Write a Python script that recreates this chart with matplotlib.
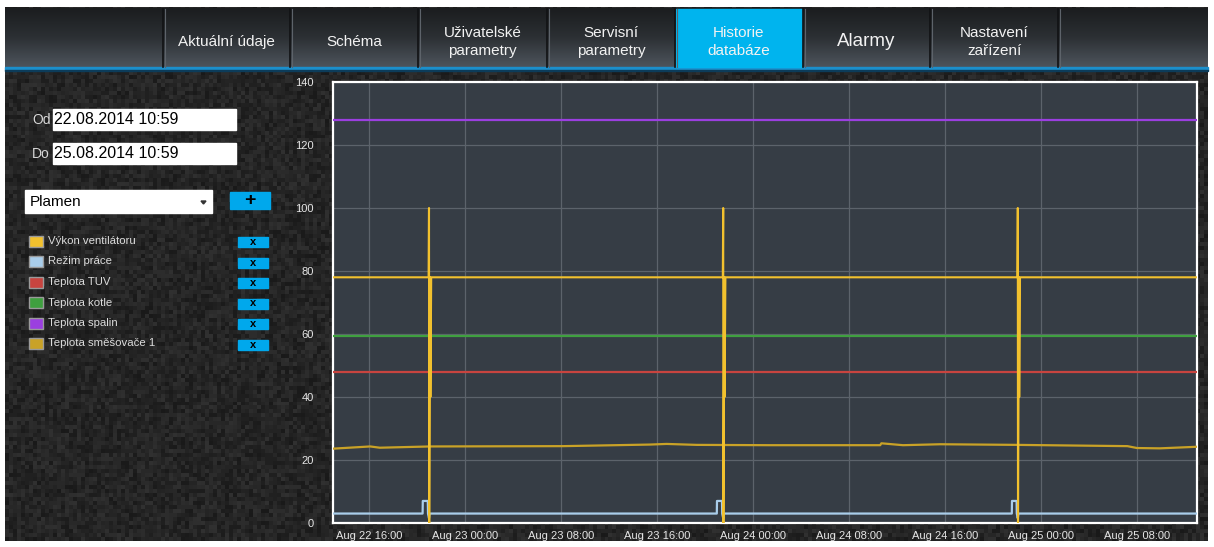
import matplotlib.pyplot as plt
import matplotlib.dates as mdates
from matplotlib.patches import Rectangle, Polygon
from matplotlib.colors import LinearSegmentedColormap
import numpy as np
import pandas as pd

plt.rcParams['font.family'] = ['Liberation Sans', 'DejaVu Sans']

# --- data ---
start = '2014-08-22 12:59'
end = '2014-08-25 12:59'

fan_times = ['2014-08-22 12:59',
             '2014-08-22 20:57', '2014-08-22 20:59', '2014-08-22 21:00', '2014-08-22 21:05', '2014-08-22 21:06', '2014-08-22 21:10',
             '2014-08-23 21:28', '2014-08-23 21:30', '2014-08-23 21:31', '2014-08-23 21:36', '2014-08-23 21:37', '2014-08-23 21:41',
             '2014-08-24 22:01', '2014-08-24 22:03', '2014-08-24 22:04', '2014-08-24 22:09', '2014-08-24 22:10', '2014-08-24 22:14',
             '2014-08-25 12:59']
fan_vals = [78,
            78, 100, 0, 78, 40, 78,
            78, 100, 0, 78, 40, 78,
            78, 100, 0, 78, 40, 78,
            78]

mode_times = ['2014-08-22 12:59',
              '2014-08-22 20:27', '2014-08-22 20:28', '2014-08-22 20:53', '2014-08-22 20:54', '2014-08-22 20:59', '2014-08-22 21:02',
              '2014-08-23 20:58', '2014-08-23 20:59', '2014-08-23 21:24', '2014-08-23 21:25', '2014-08-23 21:30', '2014-08-23 21:33',
              '2014-08-24 21:33', '2014-08-24 21:34', '2014-08-24 21:57', '2014-08-24 21:58', '2014-08-24 22:03', '2014-08-24 22:06',
              '2014-08-25 12:59']
mode_vals = [3,
             3, 7, 7, 3, 1.5, 3,
             3, 7, 7, 3, 1.5, 3,
             3, 7, 7, 3, 1.5, 3,
             3]

tuv_times = [start, end]
tuv_vals = [48, 48]
kotel_times = [start, end]
kotel_vals = [59.3, 59.3]
spaliny_times = [start, end]
spaliny_vals = [128, 128]

mix_times = ['2014-08-22 12:59', '2014-08-22 16:05', '2014-08-22 16:53', '2014-08-22 21:05',
             '2014-08-23 08:11', '2014-08-23 15:23', '2014-08-23 16:47', '2014-08-23 19:17',
             '2014-08-24 01:23', '2014-08-24 10:35', '2014-08-24 10:41', '2014-08-24 12:29',
             '2014-08-24 15:35', '2014-08-24 21:59', '2014-08-25 07:11', '2014-08-25 07:59',
             '2014-08-25 09:53', '2014-08-25 12:59']
mix_vals = [23.6, 24.3, 23.9, 24.3, 24.4, 24.9, 25.1, 24.8, 24.7, 24.7, 25.3, 24.7,
            25.0, 24.8, 24.4, 23.8, 23.7, 24.2]

series_names = ['Výkon ventilátoru', 'Režim práce', 'Teplota TUV', 'Teplota kotle',
                'Teplota spalin', 'Teplota směšovače 1']
series_colors = ['#f2c12e', '#a9cdea', '#c8443f', '#3fa03f', '#9b3fe0', '#c9a227']

tabs = ['Aktuální údaje', 'Schéma', 'Uživatelské\nparametry', 'Servisní\nparametry',
        'Historie\ndatabáze', 'Alarmy', 'Nastavení\nzařízení']
date_from = '22.08.2014 10:59'
date_to = '25.08.2014 10:59'
selected = 'Plamen'

# --- page ---
W, H = 1214, 547
fig = plt.figure(figsize=(W / 100, H / 100), dpi=100)
fig.patch.set_facecolor('white')
bg = fig.add_axes([0, 0, 1, 1])
bg.set_xlim(0, W)
bg.set_ylim(H, 0)
bg.axis('off')

# dark mosaic background (hash pattern, purely decorative)
ny, nx = 134, 301
jj, ii = np.meshgrid(np.arange(nx), np.arange(ny))
h = np.sin(ii * 12.9898 + jj * 78.233) * 43758.5453
h = h - np.floor(h)
tex = 0.10 + 0.09 * h
bg.imshow(tex, extent=[5, 1208, 541, 7], cmap='gray', vmin=0, vmax=1,
          interpolation='nearest', aspect='auto', zorder=0)

# nav bar gradient
grad = np.linspace(0, 1, 60)[:, None]
navcm = LinearSegmentedColormap.from_list('nav', ['#1b1d1f', '#2c3034', '#4d545c'])
bg.imshow(grad, extent=[5, 1208, 67, 8], cmap=navcm, aspect='auto', zorder=1)
bg.add_patch(Rectangle((5, 67), 1203, 3, color='#1b8fcc', zorder=2))
bg.add_patch(Rectangle((5, 70), 1203, 1, color='#0c3c5a', zorder=2))

seps = [163, 290, 418, 547, 675, 803, 930, 1058]
bg.add_patch(Rectangle((676, 9), 126, 58, color='#00b4ee', zorder=2))
for sx in seps:
    bg.plot([sx, sx], [9, 67], color='#111214', lw=1.2, zorder=3)
    bg.plot([sx + 1.5, sx + 1.5], [9, 67], color='#5d636a', lw=0.8, zorder=3)

for k, t in enumerate(tabs):
    cx = (seps[k] + seps[k + 1]) / 2
    size = 13.5 if t == 'Alarmy' else 11
    bg.text(cx, 42, t, ha='center', va='center', color='#f2f2f2', fontsize=size,
            linespacing=1.3, zorder=4)

# date boxes
for lab, val, y0 in [('Od', date_from, 109), ('Do', date_to, 143)]:
    bg.text(32, y0 + 10.5, lab, ha='left', va='center', color='#d8d8d8', fontsize=10, zorder=4)
    bg.add_patch(Rectangle((53, y0), 183, 21, color='white', zorder=3))
    bg.text(54, y0 + 11, val, ha='left', va='center', color='black', fontsize=11.5, zorder=4)

# dropdown and + button
bg.add_patch(Rectangle((25, 190), 187, 23, color='white', zorder=3))
bg.text(30, 202, selected, ha='left', va='center', color='black', fontsize=11, zorder=4)
bg.add_patch(Polygon([[201, 201], [206, 201], [203.5, 204]], color='#333333', zorder=4))
bg.add_patch(Rectangle((230, 192), 40, 17, color='#00a8ec', zorder=3))
bg.text(250, 200.5, '+', ha='center', va='center', color='black', fontsize=14,
        fontweight='bold', zorder=4)

# legend list
for k, (name, col) in enumerate(zip(series_names, series_colors)):
    yc = 241 + k * 20.5
    bg.add_patch(Rectangle((28.5, yc - 5.5), 14, 11, facecolor=col, edgecolor='#9a9a9a',
                           lw=1, zorder=3))
    bg.text(48, yc, name, ha='left', va='center', color='#dcdcdc', fontsize=8.2, zorder=4)
    bg.add_patch(Rectangle((238, yc - 4), 30, 10, color='#00a8ec', zorder=3))
    bg.text(253, yc + 1, 'x', ha='center', va='center', color='black', fontsize=8,
            fontweight='bold', zorder=4)

# --- chart ---
ax = fig.add_axes([333 / W, 1 - 523 / H, 864 / W, 441 / H])
ax.set_facecolor('#363d45')

def ts(lst):
    return pd.to_datetime(lst)

ax.plot(ts(spaliny_times), spaliny_vals, color=series_colors[4], lw=1.6, zorder=3)
ax.plot(ts(kotel_times), kotel_vals, color=series_colors[3], lw=1.6, zorder=3)
ax.plot(ts(tuv_times), tuv_vals, color=series_colors[2], lw=1.6, zorder=3)
ax.plot(ts(mix_times), mix_vals, color=series_colors[5], lw=1.6, zorder=3)
ax.plot(ts(mode_times), mode_vals, color=series_colors[1], lw=1.6, zorder=4)
ax.plot(ts(fan_times), fan_vals, color=series_colors[0], lw=1.5, zorder=5)

ax.set_xlim(pd.Timestamp(start), pd.Timestamp(end))
ax.set_ylim(0, 140)
ax.set_yticks(np.arange(0, 141, 20))
ax.xaxis.set_major_locator(mdates.HourLocator(byhour=[0, 8, 16]))
ax.xaxis.set_major_formatter(mdates.DateFormatter('%b %d %H:%M'))
ax.grid(True, color='#5c636b', lw=0.9, zorder=1)
ax.set_axisbelow(True)
ax.tick_params(length=0, colors='#e6e6e6', labelsize=8)
ax.tick_params(axis='x', pad=6)
ax.tick_params(axis='y', pad=14)
for sp in ax.spines.values():
    sp.set_color('white')
    sp.set_linewidth(1.6)

fig.savefig('out.png', dpi=100, facecolor='white')
